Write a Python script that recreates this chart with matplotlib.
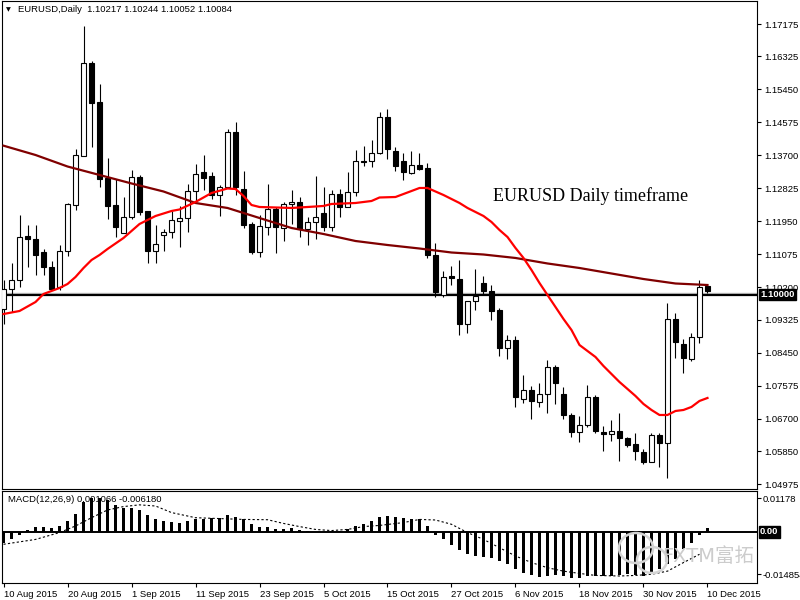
import matplotlib
matplotlib.use("Agg")
import matplotlib.pyplot as plt
from matplotlib.patches import Rectangle, Ellipse
from matplotlib.transforms import blended_transform_factory

# daily EURUSD candles, 10 Aug 2015 .. 10 Dec 2015 (one per weekday)
opens = [1.0962, 1.1015, 1.1039, 1.1155, 1.1147, 1.1113, 1.1073, 1.1020, 1.1116, 1.1237,
         1.1367, 1.1614, 1.1511, 1.1309, 1.1237, 1.1163, 1.1206, 1.1312, 1.1222, 1.1116,
         1.1158, 1.1166, 1.1195, 1.1203, 1.1275, 1.1325, 1.1314, 1.1264, 1.1285, 1.1431,
         1.1280, 1.1187, 1.1113, 1.1179, 1.1227, 1.1176, 1.1240, 1.1245, 1.1174, 1.1192,
         1.1216, 1.1179, 1.1267, 1.1232, 1.1272, 1.1354, 1.1354, 1.1375, 1.1471, 1.1381,
         1.1354, 1.1322, 1.1344, 1.1336, 1.1105, 1.0999, 1.1049, 1.1041, 1.0922, 1.0983,
         1.1031, 1.1009, 1.0959, 1.0858, 1.0879, 1.0723, 1.0747, 1.0715, 1.0736, 1.0808,
         1.0736, 1.0681, 1.0635, 1.0654, 1.0728, 1.0635, 1.0630, 1.0638, 1.0620, 1.0604,
         1.0582, 1.0556, 1.0628, 1.0606, 1.0935, 1.0869, 1.0829, 1.0887, 1.10217]
highs = [1.1039, 1.1084, 1.1211, 1.1184, 1.1184, 1.1121, 1.1089, 1.1131, 1.1243, 1.1386,
         1.1712, 1.1619, 1.1558, 1.1362, 1.1306, 1.1259, 1.1330, 1.1317, 1.1222, 1.1184,
         1.1174, 1.1222, 1.1235, 1.1293, 1.1346, 1.1370, 1.1325, 1.1291, 1.1439, 1.1458,
         1.1328, 1.1192, 1.1211, 1.1293, 1.1232, 1.1245, 1.1277, 1.1259, 1.1206, 1.1314,
         1.1285, 1.1277, 1.1280, 1.1325, 1.1383, 1.1394, 1.1410, 1.1484, 1.1492, 1.1391,
         1.1375, 1.1381, 1.1375, 1.1349, 1.1137, 1.1062, 1.1076, 1.1092, 1.0983, 1.1068,
         1.1049, 1.1025, 1.0964, 1.0893, 1.0890, 1.0787, 1.0757, 1.0765, 1.0826, 1.0813,
         1.0755, 1.0686, 1.0678, 1.0760, 1.0734, 1.0651, 1.0667, 1.0686, 1.0622, 1.0633,
         1.0590, 1.0633, 1.0633, 1.0978, 1.0951, 1.0882, 1.0898, 1.1039, 1.10244]
lows = [1.0922, 1.0954, 1.1020, 1.1073, 1.1052, 1.1052, 1.1012, 1.1012, 1.1102, 1.1224,
        1.1367, 1.1391, 1.1285, 1.1200, 1.1153, 1.1163, 1.1200, 1.1211, 1.1084, 1.1084,
        1.1116, 1.1150, 1.1126, 1.1166, 1.1245, 1.1277, 1.1253, 1.1208, 1.1283, 1.1264,
        1.1176, 1.1108, 1.1100, 1.1158, 1.1110, 1.1142, 1.1187, 1.1153, 1.1131, 1.1147,
        1.1169, 1.1169, 1.1206, 1.1232, 1.1261, 1.1341, 1.1338, 1.1373, 1.1359, 1.1328,
        1.1304, 1.1320, 1.1330, 1.1097, 1.0994, 1.0994, 1.1025, 1.0893, 1.0898, 1.0959,
        1.0999, 1.0933, 1.0837, 1.0829, 1.0702, 1.0712, 1.0670, 1.0702, 1.0686, 1.0710,
        1.0670, 1.0622, 1.0609, 1.0649, 1.0633, 1.0585, 1.0612, 1.0559, 1.0596, 1.0561,
        1.0551, 1.0556, 1.0543, 1.0513, 1.0832, 1.0792, 1.0824, 1.0872, 1.10052]
closes = [1.1015, 1.1039, 1.1153, 1.1147, 1.1105, 1.1073, 1.1015, 1.1116, 1.1240, 1.1370,
          1.1614, 1.1508, 1.1306, 1.1235, 1.1179, 1.1206, 1.1312, 1.1219, 1.1116, 1.1134,
          1.1166, 1.1198, 1.1203, 1.1275, 1.1320, 1.1309, 1.1264, 1.1285, 1.1431, 1.1285,
          1.1184, 1.1113, 1.1182, 1.1227, 1.1179, 1.1240, 1.1245, 1.1174, 1.1192, 1.1206,
          1.1179, 1.1267, 1.1232, 1.1272, 1.1354, 1.1352, 1.1375, 1.1471, 1.1386, 1.1341,
          1.1325, 1.1344, 1.1333, 1.1105, 1.1007, 1.1047, 1.1044, 1.0922, 1.0983, 1.0996,
          1.1009, 1.0956, 1.0858, 1.0879, 1.0728, 1.0747, 1.0718, 1.0736, 1.0808, 1.0765,
          1.0681, 1.0635, 1.0654, 1.0728, 1.0638, 1.0630, 1.0638, 1.0620, 1.0601, 1.0585,
          1.0556, 1.0628, 1.0606, 1.0935, 1.0874, 1.0832, 1.0887, 1.1020, 1.10084]

# fast moving average (red), read at candle indices
ma_fast_idx = [0, 2, 4, 5, 7, 8, 9, 10, 11, 12, 13, 15, 17, 19, 21, 22, 24, 26, 28, 29,
               30, 31, 32, 36, 38, 40, 41, 44, 46, 47, 49, 51, 52, 53, 55, 57, 58, 60, 61, 62,
               63, 64, 65, 66, 67, 68, 69, 70, 71, 72, 73, 74, 75, 76, 77, 78, 79, 80, 81, 82,
               83, 84, 85, 86, 87, 88]
ma_fast = [1.09484, 1.09564, 1.09802, 1.10015, 1.10174, 1.10280, 1.10466, 1.10704, 1.10916, 1.11049,
           1.11208, 1.11500, 1.11871, 1.12083, 1.12216, 1.12256, 1.12455, 1.12693, 1.12813, 1.12799,
           1.12614, 1.12375, 1.12322, 1.12296, 1.12322, 1.12349, 1.12402, 1.12428, 1.12481, 1.12574,
           1.12587, 1.12746, 1.12826, 1.12826, 1.12640, 1.12428, 1.12296, 1.12083, 1.11924, 1.11712,
           1.11526, 1.11235, 1.10970, 1.10651, 1.10306, 1.09988, 1.09670, 1.09352, 1.09060, 1.08662,
           1.08503, 1.08344, 1.08105, 1.07893, 1.07681, 1.07496, 1.07310, 1.07098, 1.06939, 1.06806,
           1.06806, 1.06912, 1.06939, 1.07019, 1.07178, 1.07257]

# slow moving average (dark red)
ma_slow_idx = [0, 4, 8, 12, 16, 20, 24, 28, 32, 36, 40, 44, 48, 52, 56, 60, 64, 68, 72, 76,
               80, 84, 88]
ma_slow = [1.13948, 1.13701, 1.13396, 1.13171, 1.12946, 1.12733, 1.12428, 1.12296, 1.12030, 1.11765,
           1.11606, 1.11420, 1.11314, 1.11221, 1.11115, 1.11062, 1.10970, 1.10824, 1.10704, 1.10558,
           1.10412, 1.10293, 1.10253]

# MACD(12,26,9) histogram and signal
macd_hist = [-0.00396, -0.00256, -0.00095, 0.0007, 0.00165, 0.00165, 0.0014, 0.0021, 0.00385, 0.0063,
             0.0105, 0.0119, 0.0120, 0.0112, 0.00935, 0.0085, 0.0084, 0.0077, 0.00585, 0.00445,
             0.00385, 0.0035, 0.00326, 0.00385, 0.00466, 0.00466, 0.0048, 0.0048, 0.00585, 0.00536,
             0.00445, 0.0028, 0.00186, 0.00165, 0.00116, 0.00116, 0.0014, 0.0007, 0.00025, 0.0001,
             0.0001, 0.00018, 0.00046, 0.00095, 0.0021, 0.0028, 0.00396, 0.00536, 0.0056, 0.00536,
             0.0049, 0.00445, 0.00445, 0.0021, -0.00095, -0.00256, -0.00445, -0.0064, -0.0076, -0.0084,
             -0.00865, -0.009, -0.01015, -0.0111, -0.01285, -0.01425, -0.01505, -0.01565, -0.0154, -0.01516,
             -0.0154, -0.016, -0.016, -0.0154, -0.0154, -0.0154, -0.0154, -0.01516, -0.0148, -0.01516,
             -0.0154, -0.01446, -0.01306, -0.0113, -0.00935, -0.00585, -0.00375, -0.00095, 0.0015]
signal_idx = [0, 4, 7, 9, 11, 13, 15, 17, 19, 21, 24, 27, 30, 33, 35, 37, 39, 41, 43, 45,
              47, 50, 52, 54, 56, 58, 60, 62, 64, 66, 68, 70, 72, 74, 77, 79, 81, 83, 85, 87]
signal = [-0.0043, -0.0026, -0.0002, 0.0021, 0.0050, 0.0077, 0.0089, 0.0095, 0.0091, 0.0068,
          0.0050, 0.0047, 0.0044, 0.0043, 0.0030, 0.0019, 0.0009, 0.0005, 0.0009, 0.0019,
          0.0023, 0.0033, 0.0044, 0.0042, 0.0027, -0.0002, -0.0026, -0.0055, -0.0084, -0.0107,
          -0.0125, -0.0137, -0.0145, -0.0152, -0.0154, -0.0152, -0.0148, -0.0137, -0.0107, -0.0078]

price_ticks = [1.17175, 1.16325, 1.15450, 1.14575, 1.13700, 1.12825, 1.11950, 1.11075,
               1.10200, 1.09325, 1.08450, 1.07575, 1.06700, 1.05850, 1.04975]
date_pos = [0, 8, 16, 24, 32, 40, 48, 56, 64, 72, 80, 88]
date_labels = ["10 Aug 2015", "20 Aug 2015", "1 Sep 2015", "11 Sep 2015", "23 Sep 2015",
               "5 Oct 2015", "15 Oct 2015", "27 Oct 2015", "6 Nov 2015", "18 Nov 2015",
               "30 Nov 2015", "10 Dec 2015"]
line_level = 1.10000
ask_level = 1.10040

plt.rcParams['font.family'] = ['Liberation Sans', 'DejaVu Sans']
FS = 6.8

fig = plt.figure(figsize=(8, 6), dpi=100)
ax = fig.add_axes([2/800, 111/600, 755/800, 488/600])
ax2 = fig.add_axes([2/800, 17/600, 755/800, 92/600])

# candles
for i in range(len(opens)):
    o, h, l, c = opens[i], highs[i], lows[i], closes[i]
    ax.vlines(i, l, h, color='black', lw=0.8, zorder=3)
    fc = 'white' if c > o else 'black'
    ax.add_patch(Rectangle((i - 0.32, min(o, c)), 0.64, max(abs(c - o), 0.00005),
                           facecolor=fc, edgecolor='black', lw=0.8, zorder=4))

ax.plot(ma_slow_idx, ma_slow, color='#800000', lw=1.6, zorder=5)
ax.plot(ma_fast_idx, ma_fast, color='#ff0000', lw=1.6, zorder=5)
ax.axhline(ask_level, color='#c0c0c0', lw=1, zorder=2)
ax.axhline(line_level, color='black', lw=1.6, zorder=2)

ax.set_xlim(-0.19, 94.19)
ax.set_ylim(1.04843, 1.17785)
ax.set_xticks([])
ax.yaxis.tick_right()
ax.set_yticks(price_ticks)
ax.set_yticklabels([f"{v:.5f}" for v in price_ticks])
ax.tick_params(axis='y', length=3, width=0.8, labelsize=FS, pad=2)
for s in ax.spines.values():
    s.set_linewidth(0.8)

ax.text(16/755, (489 - 10)/488, "EURUSD,Daily  1.10217 1.10244 1.10052 1.10084",
        transform=ax.transAxes, fontsize=FS, va='center', ha='left')
ax.text(4/755, (489 - 10)/488, "\u25bc", transform=ax.transAxes, fontsize=4.5,
        va='center', ha='left', family='DejaVu Sans')
ax.text(61.2, 1.1262, "EURUSD Daily timeframe", family='Liberation Serif',
        fontsize=13, va='center', ha='left')

tr = blended_transform_factory(fig.transFigure, ax.transData)
ax.text(760/800, line_level, "1.10000", transform=tr, color='white', fontsize=FS,
        va='center', ha='left', fontweight='bold',
        bbox=dict(boxstyle='square,pad=0.15', facecolor='black', edgecolor='black'))

# MACD panel
ax2.bar(range(len(macd_hist)), macd_hist, width=0.42, color='black', zorder=3)
ax2.plot(signal_idx, signal, color='black', lw=0.8, ls=(0, (2, 2)), zorder=4)
ax2.axhline(0, color='black', lw=1.4, zorder=2)
ax2.set_xlim(-0.19, 94.19)
ax2.set_ylim(-0.01785, 0.01435)
ax2.yaxis.tick_right()
ax2.set_yticks([0.01178, -0.014854])
ax2.set_yticklabels(["0.01178", "-0.014854"])
ax2.tick_params(axis='y', length=3, width=0.8, labelsize=FS, pad=1)
ax2.set_xticks(date_pos)
ax2.set_xticklabels(date_labels)
ax2.tick_params(axis='x', length=3, width=0.8, labelsize=FS, pad=2)
for lab in ax2.get_xticklabels():
    lab.set_horizontalalignment('left')
for s in ax2.spines.values():
    s.set_linewidth(0.8)
ax2.text(6/755, (583 - 500)/92, "MACD(12,26,9) 0.001066 -0.006180", transform=ax2.transAxes,
         fontsize=FS, va='center', ha='left', zorder=1)
tr2 = blended_transform_factory(fig.transFigure, ax2.transData)
ax2.text(760/800, 0, "0.00", transform=tr2, color='white', fontsize=FS, va='center',
         ha='left', fontweight='bold',
         bbox=dict(boxstyle='square,pad=0.15', facecolor='black', edgecolor='black'))

# watermark
for cx, cy, w, h in [(636, 548, 34, 30), (652, 560, 30, 26)]:
    fig.add_artist(Ellipse((cx/800, 1 - cy/600), w/800, h/600, transform=fig.transFigure,
                           fill=False, edgecolor='#d4d4d4', lw=1.8))
fig.text(662/800, 1 - 556/600, "FXTM富拓", color='#cccccc', fontsize=14,
         family=['DejaVu Sans', 'Noto Sans CJK SC'], va='center', ha='left')

fig.savefig("out.png", dpi=100)
